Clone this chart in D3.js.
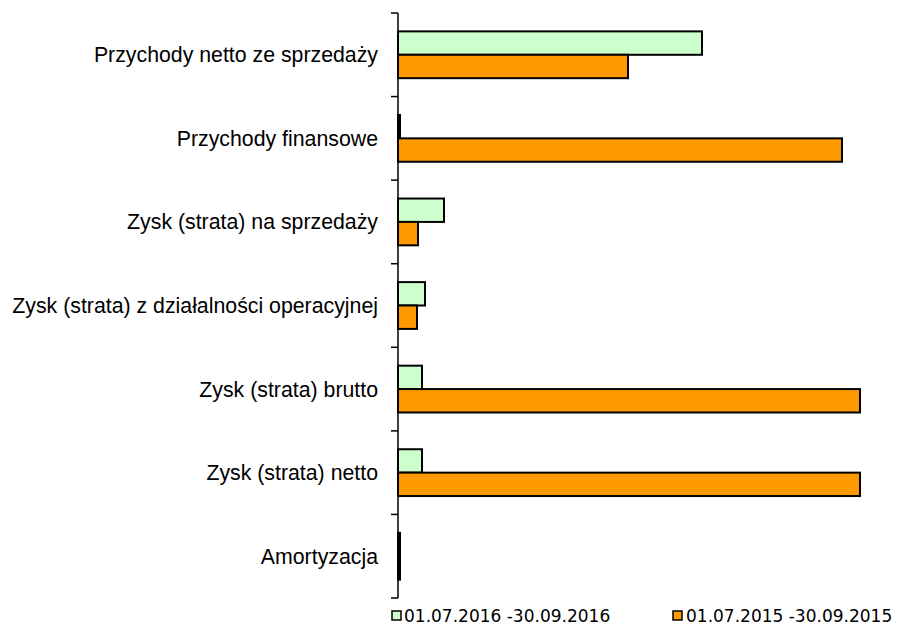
<!DOCTYPE html>
<html><head><meta charset="utf-8">
<script src="https://cdn.jsdelivr.net/npm/d3@7/dist/d3.min.js"></script>
<style>body{margin:0;background:#fff}svg{display:block}</style>
</head><body>
<script>
const categories = ["Przychody netto ze sprzedaży","Przychody finansowe","Zysk (strata) na sprzedaży","Zysk (strata) z działalności operacyjnej","Zysk (strata) brutto","Zysk (strata) netto","Amortyzacja"];
const series2016 = [304, 2, 46, 27, 24, 24, 2];
const series2015 = [230, 444, 20, 19, 462, 462, 2];
const seriesNames = ["01.07.2016 -30.09.2016","01.07.2015 -30.09.2015"];
const colors = ["#ccffcc","#ff9900"];

(function(){
const W=897,H=626;
const svg=d3.select("body").append("svg").attr("width",W).attr("height",H);
const x0=398, yTop=13, yBottom=598;
const x=d3.scaleLinear().domain([0,462]).range([x0,860]);
const y=d3.scaleBand().domain(categories).range([yTop,yBottom]).paddingInner(0.44).paddingOuter(0.22);
const sub=d3.scaleBand().domain([0,1]).range([0,y.bandwidth()]);

const data=categories.map((c,i)=>({c,v:[series2016[i],series2015[i]]}));
const g=svg.append("g");
data.forEach(d=>{
  d.v.forEach((v,k)=>{
    g.append("rect").attr("x",x(0)).attr("y",y(d.c)+sub(k)).attr("width",Math.max(x(v)-x(0),0.5)).attr("height",sub.bandwidth())
     .attr("fill",colors[k]).attr("stroke","#000").attr("stroke-width",2);
  });
});
const ax=svg.append("g");
ax.append("line").attr("x1",x0).attr("x2",x0).attr("y1",yTop).attr("y2",yBottom).attr("stroke","#000").attr("stroke-width",1.5);
const step=(yBottom-yTop)/categories.length;
d3.range(categories.length+1).forEach(i=>{
  const yy=yTop+i*step;
  ax.append("line").attr("x1",x0-7).attr("x2",x0).attr("y1",yy).attr("y2",yy).attr("stroke","#000").attr("stroke-width",1.5);
});
categories.forEach((c,i)=>{
  svg.append("text").attr("x",378).attr("y",yTop+(i+0.5)*step).attr("dy","0.35em").attr("text-anchor","end")
    .attr("font-family","'Liberation Sans',Arial,sans-serif").attr("font-size",21.3).attr("fill","#000").text(c);
});
const lg=[{x:392,tx:404},{x:673,tx:686}];
seriesNames.forEach((n,k)=>{
  svg.append("rect").attr("x",lg[k].x).attr("y",611).attr("width",9).attr("height",9).attr("fill",colors[k]).attr("stroke","#000").attr("stroke-width",1.5);
  svg.append("text").attr("x",lg[k].tx).attr("y",616.5).attr("dy","0.35em")
    .attr("font-family","'DejaVu Sans',Verdana,sans-serif").attr("font-size",17).attr("fill","#000").text(n);
});
})();
</script>
</body></html>
